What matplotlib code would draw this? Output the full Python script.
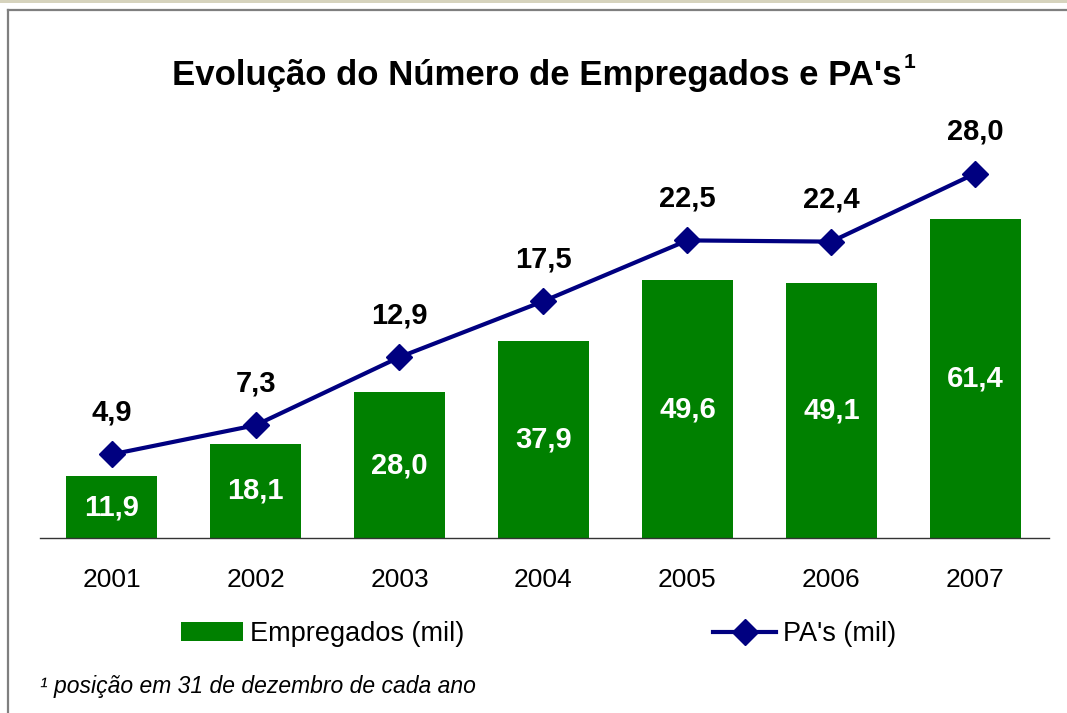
import matplotlib
matplotlib.use("Agg")
import matplotlib.pyplot as plt
from matplotlib.patches import Rectangle
from matplotlib.lines import Line2D

anos = ["2001", "2002", "2003", "2004", "2005", "2006", "2007"]
empregados = [11.9, 18.1, 28.0, 37.9, 49.6, 49.1, 61.4]
pas = [4.9, 7.3, 12.9, 17.5, 22.5, 22.4, 28.0]

verde = "#008000"
azul = "#000080"

plt.rcParams["font.family"] = ["Liberation Sans", "DejaVu Sans"]


def fmt(v):
    return f"{v:.1f}".replace(".", ",")


W, H = 1067, 713
fig = plt.figure(figsize=(W / 100, H / 100), dpi=100)
fig.patch.set_facecolor("white")

# moldura
fig.patches.append(Rectangle((0, 1 - 3 / H), 1, 3 / H, transform=fig.transFigure,
                             facecolor="#d6d3bd", edgecolor="none"))
fig.add_artist(Line2D([8 / W, 8 / W], [0, 1 - 10 / H], transform=fig.transFigure,
                      color="#7f7f7f", lw=1.6))
fig.add_artist(Line2D([8 / W, 1], [1 - 10 / H, 1 - 10 / H], transform=fig.transFigure,
                      color="#7f7f7f", lw=1.6))

ax = fig.add_axes([40 / W, 1 - 538 / H, (1049 - 40) / W, (538 - 130) / H])
x = list(range(len(anos)))
barras = ax.bar(x, empregados, width=0.632, color=verde, label="Empregados (mil)", zorder=2)
ax.set_xlim(-0.497, 6.512)
ax.set_ylim(0, 408 / 5.2)
for xi, v in zip(x, empregados):
    ax.text(xi, v / 2, fmt(v), ha="center", va="center", color="white",
            fontsize=21, fontweight="bold", zorder=3)

for s in ["top", "left", "right"]:
    ax.spines[s].set_visible(False)
ax.spines["bottom"].set_color("#333333")
ax.spines["bottom"].set_linewidth(1.0)
ax.set_yticks([])
ax.set_xticks(x)
ax.set_xticklabels(anos, fontsize=19)
ax.tick_params(axis="x", length=0, pad=21.5)
ax.set_facecolor("none")

ax2 = ax.twinx()
linha, = ax2.plot(x, pas, color=azul, lw=3, marker="D", ms=13, label="PA's (mil)", zorder=4)
ax2.set_ylim(-24 / 12.16, 384 / 12.16)
ax2.axis("off")
for xi, v in zip(x, pas):
    ax2.annotate(fmt(v), (xi, v), xytext=(0, 30), textcoords="offset points",
                 ha="center", va="center", fontsize=21, fontweight="bold")

# titulo
titulo = fig.text(537 / W, 1 - 76 / H, "Evolução do Número de Empregados e PA's",
                  ha="center", va="center", fontsize=25, fontweight="bold")
fig.canvas.draw()
bb = titulo.get_window_extent()
fig.text(bb.x1 / W + 2 / W, 1 - 62 / H, "1", ha="left", va="center",
         fontsize=15, fontweight="bold")

# legenda
fig.legend(handles=[barras, linha], labels=["Empregados (mil)", "PA's (mil)"],
           loc="center left", bbox_to_anchor=(181 / W, 1 - 634 / H), ncol=2,
           frameon=False, fontsize=19.5, handlelength=2.3, handletextpad=0.25,
           columnspacing=9.2, borderpad=0, borderaxespad=0)

# nota
fig.text(40 / W, 1 - 686 / H, "¹ posição em 31 de dezembro de cada ano",
         ha="left", va="center", fontsize=16.5, style="italic")

fig.savefig("out.png", dpi=100, facecolor="white")
